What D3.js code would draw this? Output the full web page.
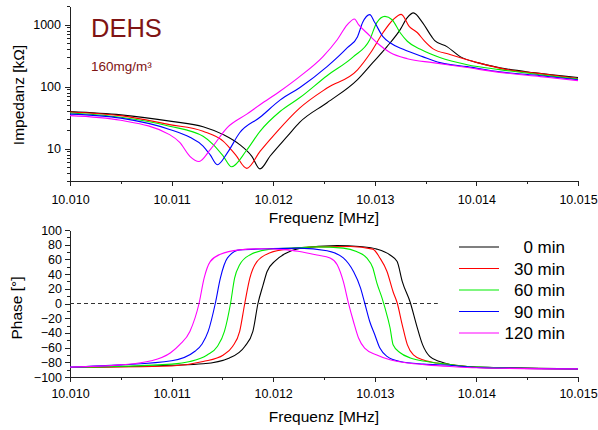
<!DOCTYPE html>
<html>
<head>
<meta charset="utf-8">
<script src="https://cdn.jsdelivr.net/npm/d3@7/dist/d3.min.js"></script>
<style>
  html, body { margin: 0; padding: 0; background: #fff; }
  svg { display: block; font-family: "Liberation Sans", Arial, sans-serif; }
  .axis path, .axis line { stroke: #222; shape-rendering: crispEdges; }
  .axis text { fill: #000; font-size: 12.5px; font-family: "Liberation Sans", Arial, sans-serif; }
</style>
</head>
<body>
<svg id="chart" width="598" height="430"></svg>
<script>
// Measurement series: time after aerosol exposure (DEHS, 160 mg/m³)
const seriesNames = ["0 min", "30 min", "60 min", "90 min", "120 min"];
const seriesColors = ["#000000", "#ff0000", "#00ee00", "#0000ff", "#ff00ff"];

// Impedance |Z| in kΩ vs frequency in MHz
const impedance0 = [[10.0100,39.5],[10.0105,35],[10.0110,27.5],[10.01131,22.6],[10.01151,16.8],[10.01167,11.6],[10.01179,7.5],[10.01187,4.7],[10.01197,7.6],[10.01214,15.9],[10.01226,26.5],[10.01253,55],[10.01283,130],[10.01298,244],[10.01312,442],[10.01325,830],[10.01332,1300],[10.01338,1550],[10.01347,1080],[10.01356,640],[10.01359,553],[10.01371,442],[10.01384,305],[10.01401,244],[10.01423,202],[10.01456,168],[10.01500,140]];
const impedance30 = [[10.0100,39],[10.0105,34],[10.01098,24.4],[10.01131,19],[10.01151,13.1],[10.01163,7.9],[10.01174,4.8],[10.01187,9],[10.01204,19],[10.01226,45],[10.01253,95],[10.01283,187],[10.01296,355],[10.01308,740],[10.01318,1200],[10.01326,1467],[10.01334,930],[10.01342,740],[10.01349,540],[10.01357,410],[10.01374,330],[10.01401,244],[10.01430,188],[10.01463,162],[10.01500,135]];
const impedance60 = [[10.0100,37.5],[10.0105,32],[10.01098,23],[10.01131,15.8],[10.01141,11.6],[10.01151,7.5],[10.01159,5.1],[10.01174,9.5],[10.01187,19],[10.01207,40],[10.01226,66],[10.01253,150],[10.01279,305],[10.01295,570],[10.01302,1080],[10.01310,1360],[10.01317,1200],[10.01325,740],[10.01332,540],[10.01345,400],[10.01364,295],[10.01391,226],[10.01423,188],[10.01463,155],[10.01500,132]];
const impedance90 = [[10.0100,36],[10.0105,31],[10.01098,20.4],[10.01118,15.2],[10.01131,11],[10.01138,7.9],[10.01145,5.5],[10.01155,8.6],[10.01167,18],[10.01187,32],[10.01207,61],[10.01226,96],[10.01253,210],[10.01273,425],[10.01283,640],[10.01288,1080],[10.01295,1450],[10.01300,1080],[10.01308,640],[10.01315,510],[10.01328,400],[10.01347,305],[10.01364,244],[10.01391,210],[10.01423,173],[10.01463,150],[10.01500,129]];
const impedance120 = [[10.0100,34],[10.0105,28.6],[10.01098,16.8],[10.01108,12.6],[10.01118,7.5],[10.01127,6.2],[10.01138,9.6],[10.01155,22],[10.01174,36],[10.01187,51],[10.01207,85],[10.01226,145],[10.01249,305],[10.01263,570],[10.01273,1000],[10.01280,1235],[10.01284,1000],[10.01292,740],[10.01302,510],[10.01315,355],[10.01332,282],[10.01357,244],[10.01391,203],[10.01423,170],[10.01463,145],[10.01500,125]];

// Phase in degrees vs frequency in MHz
const phase0 = [[10.0100,-87],[10.0110,-84],[10.01131,-82],[10.01157,-74],[10.01172,-58.5],[10.01180,-38],[10.01185,0],[10.01190,25],[10.01194,43.5],[10.01202,58],[10.01212,68],[10.01226,75],[10.01263,79],[10.01285,77.5],[10.01302,74],[10.01315,66],[10.01322,57],[10.01327,30],[10.01335,1],[10.01341,-29],[10.01347,-56],[10.01354,-72],[10.01364,-79],[10.01374,-83],[10.01394,-86],[10.01500,-89]];
const phase30 = [[10.0100,-87],[10.0110,-85],[10.01131,-79],[10.01151,-70],[10.01160,-58.5],[10.01167,-38],[10.01172,0],[10.01177,34.5],[10.01184,57],[10.01197,69],[10.01216,74.5],[10.01243,77],[10.01276,77.5],[10.01298,74],[10.01305,62],[10.01312,43.5],[10.01318,16],[10.01322,1],[10.01327,-29],[10.01332,-56],[10.01338,-70],[10.01348,-77],[10.01361,-81],[10.01374,-83],[10.01400,-87],[10.01500,-89]];
const phase60 = [[10.0100,-87],[10.0110,-82.5],[10.01118,-79],[10.01135,-70],[10.01145,-58.5],[10.01152,-38],[10.01158,0],[10.01162,34.5],[10.01167,52.7],[10.01177,66],[10.01197,74],[10.01226,76],[10.01243,77],[10.01269,75.4],[10.01282,70.7],[10.01292,62],[10.01298,48.6],[10.01302,28],[10.01307,8],[10.01310,-6],[10.01315,-33],[10.01318,-56],[10.01325,-67],[10.01335,-74],[10.01351,-79],[10.01374,-83],[10.01400,-86.5],[10.01500,-89]];
const phase90 = [[10.0100,-86.5],[10.0105,-83.5],[10.0110,-78],[10.01123,-65],[10.01130,-55],[10.01136,-38],[10.01143,0],[10.01148,34.5],[10.01155,62],[10.01167,73],[10.01194,74.4],[10.01226,75.4],[10.01253,71.7],[10.01269,62],[10.01279,43.5],[10.01286,21],[10.01290,1],[10.01295,-24.5],[10.01300,-42.6],[10.01305,-60.7],[10.01312,-72],[10.01325,-79],[10.01348,-82.5],[10.01374,-84],[10.01400,-87],[10.01500,-89]];
const phase120 = [[10.0100,-86.5],[10.0105,-83.5],[10.0108,-78],[10.01099,-67],[10.01108,-56],[10.01118,-38],[10.01127,0],[10.01132,34.5],[10.01138,57],[10.01148,67],[10.01167,73],[10.01187,74.4],[10.01214,73],[10.01226,70.7],[10.01243,66],[10.01256,62],[10.01263,52.7],[10.01269,30],[10.01274,1],[10.01279,-24.5],[10.01284,-47],[10.01290,-60.7],[10.01302,-70],[10.01315,-76.6],[10.01332,-81],[10.01351,-83.5],[10.01374,-85.7],[10.01400,-87.5],[10.01500,-89]];

const freqTicks = [10.010, 10.011, 10.012, 10.013, 10.014, 10.015];
const freqMinorTicks = [10.0105, 10.0115, 10.0125, 10.0135, 10.0145];
const impedanceTicks = [10, 100, 1000];
const phaseTicks = [-100, -80, -60, -40, -20, 0, 20, 40, 60, 80, 100];
const zeroLineEnd = 10.01362;

const impedanceSeries = [impedance0, impedance30, impedance60, impedance90, impedance120];
const phaseSeries = [phase0, phase30, phase60, phase90, phase120];

const svg = d3.select("#chart");
const left = 70, right = 578;

const x = d3.scaleLinear().domain([10.010, 10.015]).range([left, right]);
const yZ = d3.scaleLog().domain([3, 2000]).range([181, 6]);
const yP = d3.scaleLinear().domain([-100, 100]).range([377, 230]);

const fmtF = d3.format(".3f");

// ---------- upper panel: impedance ----------
const upper = svg.append("g");

// x axis with minor ticks
upper.append("g").attr("class", "axis").attr("transform", "translate(0,181)")
  .call(d3.axisBottom(x).tickValues(freqMinorTicks).tickSize(3).tickFormat(""))
  .call(g => g.select(".domain").remove());
upper.append("g").attr("class", "axis").attr("transform", "translate(0,181)")
  .call(d3.axisBottom(x).tickValues(freqTicks).tickSize(5).tickSizeOuter(0).tickPadding(9).tickFormat(fmtF));

// log y axis: minor ticks at 2..9 of each decade
const logMinor = [];
[1, 10, 100, 1000].forEach(d => { for (let k = 2; k <= 9; k++) { const v = d * k; if (v >= 3 && v <= 2000 && v !== 10 && v !== 100 && v !== 1000) logMinor.push(v); } });
upper.append("g").attr("class", "axis").attr("transform", `translate(${left},0)`)
  .call(d3.axisLeft(yZ).tickValues(logMinor).tickSize(3).tickFormat(""))
  .call(g => g.select(".domain").remove());
upper.append("g").attr("class", "axis").attr("transform", `translate(${left},0)`)
  .call(d3.axisLeft(yZ).tickValues(impedanceTicks).tickSize(5).tickSizeOuter(0).tickPadding(4).tickFormat(d3.format("d")));

const lineZ = d3.line().x(d => x(d[0])).y(d => yZ(d[1])).curve(d3.curveMonotoneX);
upper.append("g").selectAll("path").data(impedanceSeries).join("path")
  .attr("d", lineZ).attr("fill", "none")
  .attr("stroke", (d, i) => seriesColors[i]).attr("stroke-width", 1.1);

upper.append("text").attr("x", (left + right) / 2).attr("y", 223)
  .attr("text-anchor", "middle").attr("font-size", 15.5).text("Frequenz [MHz]");
upper.append("text").attr("transform", "translate(24,95) rotate(-90)")
  .attr("text-anchor", "middle").attr("font-size", 15.5).text("Impedanz [kΩ]");

upper.append("text").attr("x", 91).attr("y", 37).attr("font-size", 25.5)
  .attr("fill", "#7f1414").text("DEHS");
upper.append("text").attr("x", 91).attr("y", 71).attr("font-size", 13.5)
  .attr("fill", "#7f1414").text("160mg/m³");

// ---------- lower panel: phase ----------
const lower = svg.append("g");

lower.append("g").attr("class", "axis").attr("transform", "translate(0,377)")
  .call(d3.axisBottom(x).tickValues(freqMinorTicks).tickSize(3).tickFormat(""))
  .call(g => g.select(".domain").remove());
lower.append("g").attr("class", "axis").attr("transform", "translate(0,377)")
  .call(d3.axisBottom(x).tickValues(freqTicks).tickSize(5).tickSizeOuter(0).tickPadding(7).tickFormat(fmtF));

const phaseMinor = d3.range(-90, 100, 20);
lower.append("g").attr("class", "axis").attr("transform", `translate(${left},0)`)
  .call(d3.axisLeft(yP).tickValues(phaseMinor).tickSize(3).tickFormat(""))
  .call(g => g.select(".domain").remove());
lower.append("g").attr("class", "axis").attr("transform", `translate(${left},0)`)
  .call(d3.axisLeft(yP).tickValues(phaseTicks).tickSize(5).tickSizeOuter(0).tickPadding(3).tickFormat(d3.format("d")));

// zero reference
lower.append("line")
  .attr("x1", x(10.010)).attr("x2", x(zeroLineEnd))
  .attr("y1", yP(0)).attr("y2", yP(0))
  .attr("stroke", "#333").attr("stroke-width", 1.2).attr("stroke-dasharray", "4,3");

const lineP = d3.line().x(d => x(d[0])).y(d => yP(d[1])).curve(d3.curveMonotoneX);
lower.append("g").selectAll("path").data(phaseSeries).join("path")
  .attr("d", lineP).attr("fill", "none")
  .attr("stroke", (d, i) => seriesColors[i]).attr("stroke-width", 1.1);

lower.append("text").attr("x", (left + right) / 2).attr("y", 422)
  .attr("text-anchor", "middle").attr("font-size", 15.5).text("Frequenz [MHz]");
lower.append("text").attr("transform", "translate(22,308) rotate(-90)")
  .attr("text-anchor", "middle").attr("font-size", 15.5).text("Phase [°]");

// legend
const legend = lower.append("g");
const legendY = d3.scalePoint().domain(seriesNames).range([247, 333]);
seriesNames.forEach((name, i) => {
  const ly = legendY(name);
  legend.append("line").attr("x1", 459).attr("x2", 499).attr("y1", ly).attr("y2", ly)
    .attr("stroke", seriesColors[i]).attr("stroke-width", 1.2);
  legend.append("text").attr("x", 565).attr("y", ly).attr("dy", "0.36em")
    .attr("text-anchor", "end").attr("font-size", 17).text(name);
});
</script>
</body>
</html>
